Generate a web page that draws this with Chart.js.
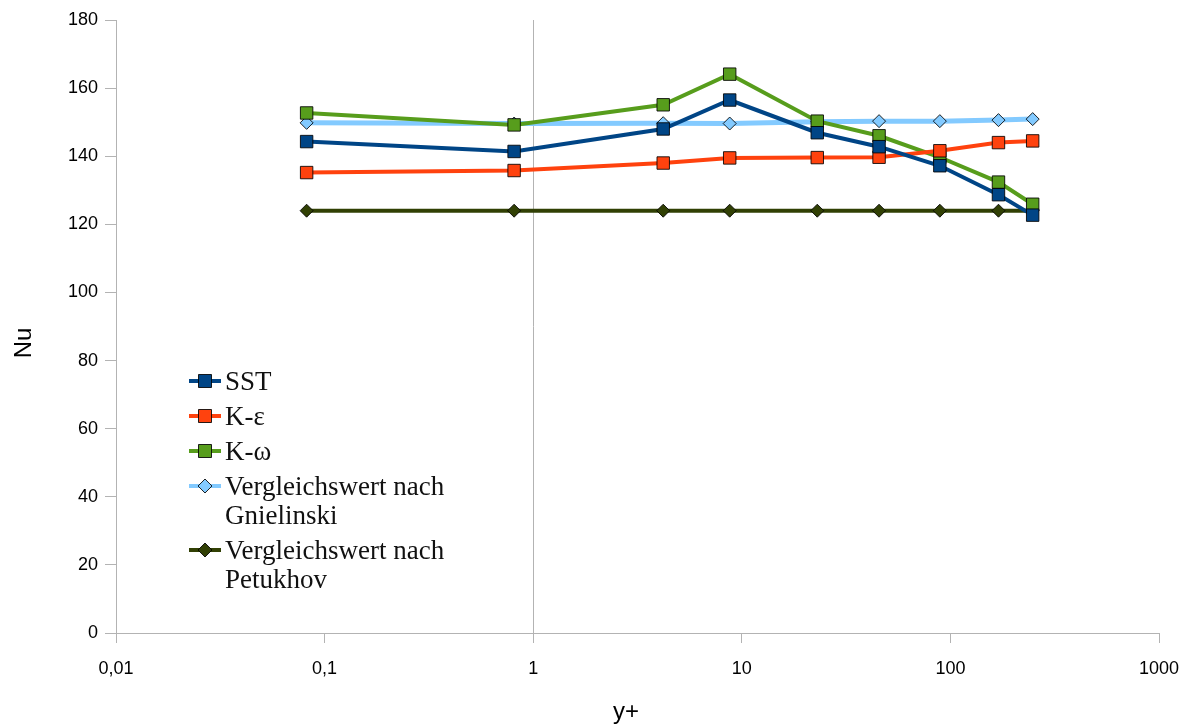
<!DOCTYPE html>
<html>
<head>
<meta charset="utf-8">
<script src="https://cdn.jsdelivr.net/npm/chart.js@4/dist/chart.umd.min.js"></script>
<style>
  html, body { margin: 0; padding: 0; background: #ffffff; }
  #wrap { width: 1190px; height: 727px; position: relative; }
</style>
</head>
<body>
<div id="wrap"><canvas id="c" width="1190" height="727"></canvas></div>
<script>
// y+ positions of the mesh variants (shared by all series)
const yPlus = [0.082, 0.81, 4.2, 8.75, 23, 45.5, 89, 170, 248];

// Nusselt numbers per turbulence model
const nuSST        = [144.3, 141.4, 148.0, 156.5, 146.9, 142.8, 137.2, 128.7, 122.7];
const nuKEpsilon   = [135.2, 135.8, 138.0, 139.5, 139.6, 139.7, 141.6, 144.0, 144.5];
const nuKOmega     = [152.7, 149.2, 155.1, 164.1, 150.3, 146.0, 139.7, 132.4, 125.9];
// reference correlations
const nuGnielinski = [149.8, 149.6, 149.7, 149.6, 150.1, 150.3, 150.3, 150.6, 150.9];
const nuPetukhov   = [124.0, 124.0, 124.0, 124.0, 124.0, 124.0, 124.0, 124.0, 124.0];

const seriesNames = ['SST', 'K-ε', 'K-ω', 'Vergleichswert nach\nGnielinski', 'Vergleichswert nach\nPetukhov'];

const xTickValues = [0.01, 0.1, 1, 10, 100, 1000];
const xTickLabels = ['0,01', '0,1', '1', '10', '100', '1000'];
const yTickLabels = ['0', '20', '40', '60', '80', '100', '120', '140', '160', '180'];

const xTitle = 'y+';
const yTitle = 'Nu';

const AXIS_GREY = '#b3b3b3';
const SANS = '"Liberation Sans", Arial, sans-serif';
const SERIF = '"Liberation Serif", "DejaVu Serif", serif';

function pairs(values) {
  return yPlus.map((x, i) => ({ x: x, y: values[i] }));
}

function series(label, values, color, shape, radius, width) {
  return {
    label: label,
    data: pairs(values),
    borderColor: color,
    backgroundColor: color,
    borderWidth: width,
    pointStyle: shape,
    pointRadius: radius,
    pointHoverRadius: radius,
    pointBackgroundColor: color,
    pointBorderColor: 'rgba(0,0,0,0.85)',
    pointBorderWidth: 1,
    tension: 0,
    fill: false
  };
}

// Legend drawn inside the plot area, lower left
const insideLegend = {
  id: 'insideLegend',
  afterDraw(chart) {
    const ctx = chart.ctx;
    const lineX0 = 189, lineX1 = 221, markX = 205, textX = 225;
    const rowGap = 35, lineH = 29;
    let y = 381;
    ctx.save();
    chart.data.datasets.forEach(ds => {
      const lines = ds.label.split('\n');
      // line stub
      ctx.strokeStyle = ds.borderColor;
      ctx.lineWidth = 4;
      ctx.beginPath();
      ctx.moveTo(lineX0, y);
      ctx.lineTo(lineX1, y);
      ctx.stroke();
      // marker
      ctx.fillStyle = ds.pointBackgroundColor;
      ctx.strokeStyle = ds.pointBorderColor;
      ctx.lineWidth = 1;
      ctx.beginPath();
      if (ds.pointStyle === 'rect') {
        ctx.rect(markX - 6.5, y - 6.5, 13, 13);
      } else {
        ctx.moveTo(markX, y - 7);
        ctx.lineTo(markX + 7, y);
        ctx.lineTo(markX, y + 7);
        ctx.lineTo(markX - 7, y);
        ctx.closePath();
      }
      ctx.fill();
      ctx.stroke();
      // label text
      ctx.fillStyle = '#111111';
      ctx.font = '27px ' + SERIF;
      ctx.textAlign = 'left';
      ctx.textBaseline = 'alphabetic';
      lines.forEach((t, i) => ctx.fillText(t, textX, y + 8.5 + i * lineH));
      y += (lines.length - 1) * lineH + rowGap;
    });
    ctx.restore();
  }
};

// Axis titles
const axisTitles = {
  id: 'axisTitles',
  afterDraw(chart) {
    const ctx = chart.ctx;
    ctx.save();
    ctx.fillStyle = '#000000';
    ctx.font = '24px ' + SANS;
    ctx.textAlign = 'center';
    ctx.textBaseline = 'alphabetic';
    ctx.fillText(xTitle, 626, 719);
    ctx.translate(31, 343);
    ctx.rotate(-Math.PI / 2);
    ctx.fillText(yTitle, 0, 0);
    ctx.restore();
  }
};

const chart = new Chart(document.getElementById('c'), {
  type: 'line',
  data: {
    datasets: [
      series(seriesNames[0], nuSST,        '#004586', 'rect',    8.8, 4),
      series(seriesNames[1], nuKEpsilon,   '#ff420e', 'rect',    8.8, 4),
      series(seriesNames[2], nuKOmega,     '#579d1c', 'rect',    8.8, 4),
      series(seriesNames[3], nuGnielinski, '#83caff', 'rectRot', 6.5, 5),
      series(seriesNames[4], nuPetukhov,   '#314004', 'rectRot', 6.5, 4)
    ]
  },
  options: {
    responsive: false,
    animation: false,
    devicePixelRatio: 1,
    layout: { padding: { top: 20, right: 31, left: 0, bottom: 0 } },
    plugins: {
      legend: { display: false },
      tooltip: { enabled: false },
      title: { display: false }
    },
    scales: {
      x: {
        type: 'logarithmic',
        min: 0.01,
        max: 1000,
        afterBuildTicks(scale) {
          scale.ticks = xTickValues.map(v => ({ value: v }));
        },
        afterFit(scale) {
          scale.height = 94;
          scale.paddingLeft = 0;
          scale.paddingRight = 0;
        },
        ticks: {
          autoSkip: false,
          maxRotation: 0,
          padding: 15,
          color: '#000000',
          font: { family: SANS, size: 18 },
          callback(value, index) { return xTickLabels[index]; }
        },
        grid: {
          drawOnChartArea: true,
          drawTicks: true,
          tickLength: 10,
          tickColor: AXIS_GREY,
          lineWidth: 1,
          color(ctx) {
            return ctx.tick && ctx.tick.value === 1 ? AXIS_GREY : 'rgba(0,0,0,0)';
          }
        },
        border: { display: true, color: AXIS_GREY, width: 1 }
      },
      y: {
        type: 'linear',
        min: 0,
        max: 180,
        afterFit(scale) {
          scale.width = 116;
          scale.paddingTop = 0;
          scale.paddingBottom = 0;
        },
        ticks: {
          stepSize: 20,
          padding: 7,
          color: '#000000',
          font: { family: SANS, size: 18 },
          callback(value, index) { return yTickLabels[index]; }
        },
        grid: {
          drawOnChartArea: false,
          drawTicks: true,
          tickLength: 11,
          tickColor: AXIS_GREY
        },
        border: { display: true, color: AXIS_GREY, width: 1 }
      }
    }
  },
  plugins: [insideLegend, axisTitles]
});
</script>
</body>
</html>
